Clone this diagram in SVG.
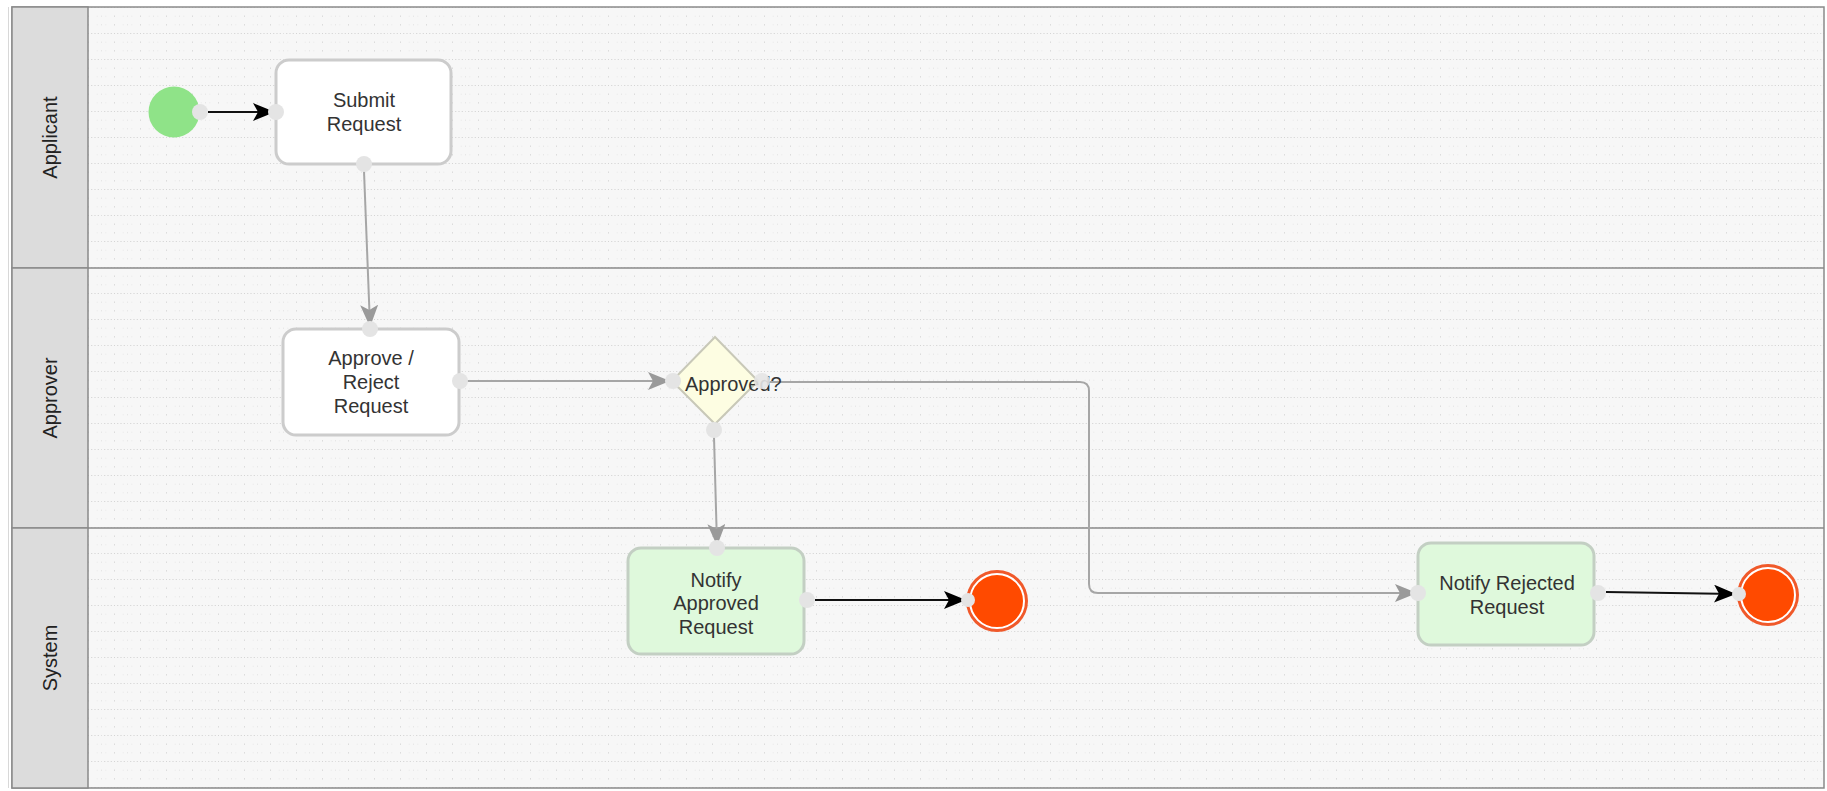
<svg xmlns="http://www.w3.org/2000/svg" width="1827" height="791" viewBox="0 0 1827 791">
<style>
.lbl{font-family:"Liberation Sans",Arial,sans-serif;font-size:20px;fill:#333;text-anchor:middle}
.lane{font-family:"Liberation Sans",Arial,sans-serif;font-size:20px;fill:#222;text-anchor:middle}
.task{fill:#fff;stroke:#cccccc;stroke-width:3}
.notify{fill:#dff9dc;stroke:#c3cfc3;stroke-width:3}
.port{fill:#e4e4e4}
.gline{fill:none;stroke:#a6a6a6;stroke-width:2}
.bline{fill:none;stroke:#111;stroke-width:2}
.hdr{fill:#dcdcdc;stroke:#8a8a8a;stroke-width:1.5}
.div{stroke:#8a8a8a;stroke-width:1.5}
</style>
<defs>
<pattern id="grid" x="88" y="7" width="26" height="26" patternUnits="userSpaceOnUse">
<line x1="0" y1="0.5" x2="26" y2="0.5" stroke="#cfcfcf" stroke-width="1" stroke-dasharray="1 2.25"/>
<line x1="0" y1="9.17" x2="26" y2="9.17" stroke="#e6e6e6" stroke-width="1" stroke-dasharray="1 7.67"/>
<line x1="0" y1="17.83" x2="26" y2="17.83" stroke="#e6e6e6" stroke-width="1" stroke-dasharray="1 7.67"/>
<line x1="0.5" y1="0" x2="0.5" y2="26" stroke="#d4d4d4" stroke-width="1" stroke-dasharray="1 7.67"/>
<line x1="13.5" y1="0" x2="13.5" y2="26" stroke="#e0e0e0" stroke-width="1" stroke-dasharray="1 7.67"/>
</pattern>
<marker id="ag" viewBox="0 0 22 18" refX="21" refY="9" markerWidth="22" markerHeight="18" markerUnits="userSpaceOnUse" orient="auto">
<path d="M0,0 L22,9 L0,18 L5,9 z" fill="#9a9a9a"/>
</marker>
<marker id="ab" viewBox="0 0 22 18" refX="21" refY="9" markerWidth="22" markerHeight="18" markerUnits="userSpaceOnUse" orient="auto">
<path d="M0,0 L22,9 L0,18 L5,9 z" fill="#000"/>
</marker>
</defs>
<rect x="0" y="0" width="1827" height="791" fill="#fff"/>
<rect x="12" y="7" width="1812" height="781" fill="#f7f7f7"/>
<rect x="88" y="7" width="1736" height="781" fill="url(#grid)"/>
<g id="lanes">
<rect x="12" y="7" width="1812" height="781" fill="none" stroke="#8a8a8a" stroke-width="1.5"/>
<line x1="8.5" y1="7" x2="8.5" y2="788" stroke="#d8d8d8" stroke-width="1"/>
<g id="lane-applicant">
<rect class="hdr" x="12" y="7" width="76" height="261"/>
<text class="lane" transform="translate(57,137.5) rotate(-90)">Applicant</text>
</g>
<g id="lane-approver">
<rect class="hdr" x="12" y="268" width="76" height="260"/>
<text class="lane" transform="translate(57,398) rotate(-90)">Approver</text>
</g>
<g id="lane-system">
<rect class="hdr" x="12" y="528" width="76" height="260"/>
<text class="lane" transform="translate(57,658) rotate(-90)">System</text>
</g>
<line class="div" x1="88" y1="268" x2="1824" y2="268"/>
<line class="div" x1="88" y1="528" x2="1824" y2="528"/>
</g>
<g id="connectors">
<path class="bline" d="M208,112 L274,112" marker-end="url(#ab)"/>
<path class="gline" d="M364,171 L370,326" marker-end="url(#ag)"/>
<path class="gline" d="M467,381 L669,381" marker-end="url(#ag)"/>
<path class="gline" d="M714,437 L717,545" marker-end="url(#ag)"/>
<path class="gline" d="M769,382 L1080,382 Q1089,382 1089,391 L1089,584 Q1089,593 1098,593 L1416,593" marker-end="url(#ag)"/>
<path class="bline" d="M815,600 L965,600" marker-end="url(#ab)"/>
<path class="bline" d="M1606,592 L1735,594" marker-end="url(#ab)"/>
</g>
<g id="start">
<circle cx="174" cy="112" r="25.5" fill="#8fe388"/>
<circle class="port" cx="200" cy="112" r="8"/>
</g>
<g id="submit-request">
<rect class="task" x="276" y="60" width="175" height="104" rx="13"/>
<text class="lbl" x="364" y="107">Submit</text>
<text class="lbl" x="364" y="131">Request</text>
<circle class="port" cx="276" cy="112" r="8"/>
<circle class="port" cx="364" cy="164" r="8"/>
</g>
<g id="approve-reject">
<rect class="task" x="283" y="329" width="176" height="106" rx="13"/>
<text class="lbl" x="371" y="365">Approve /</text>
<text class="lbl" x="371" y="389">Reject</text>
<text class="lbl" x="371" y="413">Request</text>
<circle class="port" cx="370" cy="329" r="8"/>
<circle class="port" cx="460" cy="381" r="8"/>
</g>
<g id="approved-gateway">
<polygon points="715,337 758,381 715,424 672,381" fill="#fdfde2" stroke="#c8c8b8" stroke-width="2"/>
<text x="685" y="391" font-family="'Liberation Sans',Arial,sans-serif" font-size="20" fill="#333">Approved?</text>
<circle class="port" cx="673" cy="381" r="8"/>
<circle cx="762" cy="381" r="8" fill="#e4e4e4" fill-opacity="0.9"/>
<circle class="port" cx="714" cy="430" r="8"/>
</g>
<g id="notify-approved">
<rect class="notify" x="628" y="548" width="176" height="106" rx="13"/>
<text class="lbl" x="716" y="587">Notify</text>
<text class="lbl" x="716" y="610">Approved</text>
<text class="lbl" x="716" y="634">Request</text>
<circle class="port" cx="717" cy="548" r="8"/>
<circle class="port" cx="807" cy="600" r="8"/>
</g>
<g id="end-approved">
<circle cx="997" cy="601" r="31" fill="#f0592a"/>
<circle cx="997" cy="601" r="27" fill="#ff4a00" stroke="#fff" stroke-width="2"/>
<circle class="port" cx="968" cy="600" r="7"/>
</g>
<g id="notify-rejected">
<rect class="notify" x="1418" y="543" width="176" height="102" rx="13"/>
<text class="lbl" x="1507" y="590">Notify Rejected</text>
<text class="lbl" x="1507" y="614">Request</text>
<circle class="port" cx="1418" cy="593" r="8"/>
<circle class="port" cx="1598" cy="593" r="8"/>
</g>
<g id="end-rejected">
<circle cx="1768" cy="595" r="31" fill="#f0592a"/>
<circle cx="1768" cy="595" r="27" fill="#ff4a00" stroke="#fff" stroke-width="2"/>
<circle class="port" cx="1739" cy="594" r="7"/>
</g>
</svg>
